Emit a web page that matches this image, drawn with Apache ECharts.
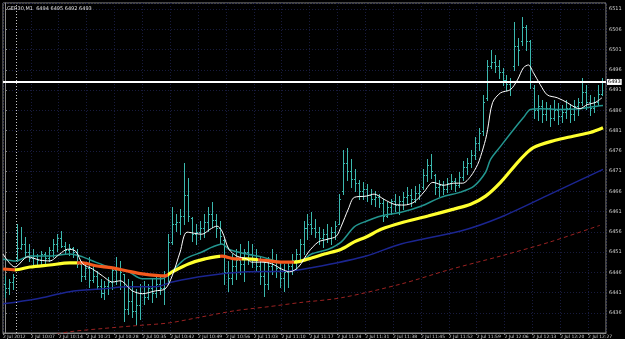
<!DOCTYPE html>
<html><head><meta charset="utf-8">
<script src="https://cdn.jsdelivr.net/npm/echarts@6/dist/echarts.min.js"></script>
<style>html,body{margin:0;padding:0;background:#000;}#c{width:625px;height:339px;}</style>
</head><body><div id="c"></div>
<script>
const symbolName = "GER30,M1";
const lastQuote = "6494 6495 6492 6493";
const currentPrice = 6493;
const separatorBar = 2.75;

const timeLabels = ["2 Jul 2012","2 Jul 10:07","2 Jul 10:14","2 Jul 10:21","2 Jul 10:28","2 Jul 10:35","2 Jul 10:42","2 Jul 10:49","2 Jul 10:56","2 Jul 11:03","2 Jul 11:10","2 Jul 11:17","2 Jul 11:24","2 Jul 11:31","2 Jul 11:38","2 Jul 11:45","2 Jul 11:52","2 Jul 11:59","2 Jul 12:06","2 Jul 12:13","2 Jul 12:20","2 Jul 12:27"];

const opens = [
6443.0,6442.0,6443.5,6449.5,6452.0,6453.0,6451.0,6449.5,6450.0,6449.0,
6450.5,6449.5,6451.5,6453.0,6454.5,6452.5,6451.5,6452.0,6451.0,6448.0,
6445.0,6447.0,6444.0,6445.0,6442.5,6441.0,6442.5,6443.5,6446.5,6447.0,
6445.5,6437.0,6439.0,6436.5,6438.0,6441.0,6440.0,6442.0,6441.0,6443.0,
6442.0,6445.0,6453.5,6458.0,6458.5,6460.0,6465.0,6459.5,6455.5,6456.0,
6457.0,6458.5,6460.5,6459.0,6457.0,6454.0,6446.0,6444.5,6447.5,6449.0,
6448.0,6451.0,6450.5,6449.5,6447.5,6445.0,6443.0,6447.5,6449.0,6447.0,
6444.5,6446.0,6447.5,6449.0,6450.5,6453.0,6457.0,6458.0,6457.0,6456.0,
6454.5,6455.5,6454.5,6456.0,6458.0,6466.0,6473.0,6471.0,6469.0,6468.0,
6466.0,6466.5,6465.0,6464.0,6464.5,6463.0,6460.0,6462.0,6463.5,6462.5,
6463.5,6464.5,6465.0,6464.0,6465.5,6467.0,6470.0,6472.5,6470.0,6467.0,
6467.5,6466.5,6468.0,6468.5,6467.5,6469.5,6472.0,6473.0,6475.0,6478.0,
6481.0,6489.0,6497.0,6498.0,6497.0,6495.5,6493.5,6492.5,6497.0,6502.0,
6503.0,6506.5,6503.0,6491.5,6486.0,6487.0,6485.0,6486.5,6484.0,6486.0,
6484.5,6485.5,6486.5,6485.0,6487.0,6488.0,6490.5,6488.0,6486.5,6488.0,6490.0];

const highs = [
6445.1,6444.4,6445.6,6457.9,6457.2,6454.7,6453.0,6451.7,6450.5,6451.2,
6451.0,6452.2,6454.2,6455.4,6456.2,6453.5,6453.0,6452.2,6451.7,6448.8,
6448.1,6449.8,6448.1,6446.3,6444.4,6443.9,6444.9,6447.3,6449.8,6448.8,
6445.6,6444.4,6443.9,6441.9,6443.1,6443.9,6443.1,6444.4,6445.6,6444.9,
6446.3,6455.4,6462.1,6460.3,6461.6,6473.1,6469.4,6459.6,6457.9,6458.6,
6460.3,6462.1,6463.3,6460.3,6458.6,6454.2,6448.8,6450.5,6451.7,6453.0,
6451.7,6453.7,6453.0,6451.7,6449.8,6448.8,6449.8,6451.7,6450.5,6448.8,
6448.1,6448.8,6450.5,6451.7,6454.2,6458.6,6460.3,6460.8,6459.1,6457.2,
6456.6,6457.9,6457.2,6458.6,6465.3,6476.3,6476.8,6473.9,6471.4,6468.9,
6468.2,6467.7,6466.5,6466.0,6465.3,6464.0,6463.3,6464.0,6465.3,6464.8,
6465.8,6467.0,6466.5,6467.2,6467.7,6471.4,6473.9,6475.1,6470.2,6468.9,
6468.5,6469.4,6470.2,6469.4,6470.7,6473.4,6474.3,6476.3,6479.3,6481.7,
6489.8,6498.5,6500.9,6499.7,6498.5,6496.5,6494.8,6494.0,6507.8,6503.9,
6509.0,6507.1,6503.4,6492.3,6489.8,6488.6,6488.1,6487.4,6488.6,6487.9,
6487.4,6488.6,6487.6,6488.6,6489.1,6494.0,6492.3,6489.8,6489.4,6492.3,6494.0];

const lows = [
6439.9,6440.7,6441.9,6448.8,6451.7,6449.8,6448.8,6448.1,6447.6,6447.8,
6448.1,6448.8,6449.8,6451.2,6452.2,6450.5,6450.3,6449.8,6447.3,6443.9,
6444.4,6442.4,6443.6,6441.9,6439.9,6439.4,6440.7,6441.9,6443.1,6441.9,
6434.0,6435.8,6435.0,6433.1,6434.5,6438.2,6439.4,6438.7,6439.9,6440.7,
6438.2,6443.1,6453.0,6456.2,6455.4,6457.9,6458.6,6453.7,6453.0,6454.2,
6454.7,6456.2,6457.2,6454.7,6453.0,6443.1,6441.4,6443.1,6444.4,6445.6,
6443.9,6448.1,6447.3,6446.3,6443.1,6440.2,6441.9,6445.6,6444.9,6442.4,
6441.4,6442.4,6445.6,6446.8,6448.8,6450.5,6454.2,6455.4,6454.7,6453.0,
6452.2,6453.5,6453.0,6454.2,6457.9,6465.3,6468.9,6467.0,6466.0,6464.0,
6464.0,6463.5,6462.8,6462.3,6462.1,6458.6,6459.6,6460.3,6461.1,6460.3,
6461.6,6462.8,6462.3,6463.3,6464.0,6466.5,6468.5,6469.4,6465.3,6464.8,
6465.3,6465.8,6466.5,6466.0,6467.0,6468.9,6470.2,6471.9,6473.9,6476.3,
6480.0,6488.6,6496.5,6495.5,6494.0,6492.3,6491.1,6489.8,6496.0,6497.2,
6502.1,6500.9,6491.6,6484.2,6483.7,6483.0,6483.7,6482.0,6483.7,6482.5,
6483.0,6484.2,6483.2,6483.7,6484.9,6487.4,6486.2,6484.9,6485.6,6487.4,6489.8];

const closes = [
6442.0,6443.5,6444.8,6452.0,6453.0,6451.0,6449.5,6450.0,6449.0,6450.5,
6449.5,6451.5,6453.0,6454.5,6452.5,6451.5,6452.0,6451.0,6448.0,6445.0,
6447.0,6444.0,6445.0,6442.5,6441.0,6442.5,6443.5,6446.5,6447.0,6446.0,
6437.0,6439.0,6436.5,6438.0,6441.0,6440.0,6442.0,6441.0,6443.0,6442.0,
6445.0,6453.5,6458.0,6458.5,6460.0,6465.0,6460.0,6455.5,6456.0,6457.0,
6458.5,6460.5,6459.0,6457.0,6455.0,6446.0,6444.5,6447.5,6449.0,6448.0,
6451.0,6450.5,6449.5,6447.5,6445.0,6443.0,6447.5,6449.0,6447.0,6444.5,
6446.0,6447.5,6449.0,6450.5,6453.0,6457.0,6458.0,6457.0,6456.0,6454.5,
6455.5,6454.5,6456.0,6457.5,6464.0,6473.0,6471.0,6469.0,6468.0,6466.0,
6466.5,6465.0,6464.0,6464.5,6463.0,6460.0,6462.0,6463.5,6462.5,6463.5,
6464.5,6465.0,6464.0,6465.5,6466.0,6470.0,6472.5,6471.0,6467.0,6467.5,
6466.5,6468.0,6468.5,6467.5,6469.5,6472.0,6473.0,6475.0,6478.0,6480.5,
6488.0,6497.0,6498.0,6497.0,6495.5,6493.5,6492.5,6491.5,6502.0,6501.0,
6506.5,6503.0,6493.0,6486.0,6487.0,6485.0,6486.5,6484.0,6486.0,6484.5,
6485.5,6486.5,6485.0,6487.0,6488.0,6490.5,6488.0,6486.5,6488.0,6490.0,6493.0];

// moving averages: [bar position, price]
const maWhite = [[-0.5,6450.5],[2.5,6447.3],[5.75,6449.8],[8.75,6449.0],[11.25,6448.8],[13.75,6450.5],[15.75,6451.7],[17.75,6451.2],[19.5,6448.1],[22,6446.8],[24.5,6445.1],[27,6443.6],[29,6443.9],[30.75,6442.6],[32,6441.4],[34.5,6440.7],[37.75,6441.4],[40.25,6441.9],[42,6445.1],[44,6451.0],[45.75,6455.9],[49.5,6455.4],[51.5,6456.6],[53.25,6457.4],[54.5,6456.2],[56.25,6451.7],[58.25,6450.0],[60.75,6449.3],[62,6448.5],[64.5,6448.5],[67,6448.1],[69.5,6446.8],[71.5,6446.1],[73.75,6447.3],[76.25,6451.0],[78.75,6453.5],[81.25,6454.2],[83.25,6454.9],[84.5,6457.4],[86.25,6461.6],[87.75,6464.5],[90.75,6464.8],[92.75,6465.3],[95.25,6464.0],[97.75,6462.8],[100.25,6462.6],[102.75,6463.3],[105.25,6465.8],[107.5,6468.2],[110.25,6467.5],[112.75,6468.0],[115,6468.0],[117,6469.7],[118.75,6472.6],[119.5,6474.6],[120.75,6478.8],[121.25,6481.2],[122.5,6487.9],[124.5,6490.3],[127,6491.1],[128.75,6493.5],[130.25,6496.5],[131.5,6497.2],[132.75,6495.3],[134.5,6492.3],[136.25,6489.8],[138.75,6489.1],[141.25,6487.9],[143.25,6486.7],[144.5,6486.4],[146.25,6487.4],[148.25,6487.9],[150,6489.1]];
const maTeal = [[-0.5,6449.3],[2.75,6448.8],[6.25,6450.0],[11.25,6450.0],[16.25,6450.5],[19.5,6449.8],[22.75,6448.5],[26.25,6447.3],[30.75,6446.3],[34.5,6444.4],[39.5,6444.4],[42,6446.3],[45.25,6449.3],[49.5,6451.0],[52,6452.2],[54.5,6453.0],[56.25,6451.7],[60.75,6450.5],[64.5,6449.8],[69.5,6448.5],[73.75,6448.5],[77,6450.5],[81.25,6451.7],[84.5,6453.5],[87.75,6457.2],[90.75,6458.6],[94.5,6459.9],[99.5,6460.8],[104.5,6462.3],[109.5,6464.5],[114.5,6465.8],[117.75,6467.2],[120.75,6470.7],[122,6473.9],[124.5,6477.1],[127.75,6481.2],[130.25,6484.2],[132,6486.2],[134.5,6486.4],[139.5,6486.2],[144.5,6486.4],[147.75,6486.9],[150.25,6487.2]];
const maThick = [[-0.5,6446.8],[2.5,6446.6],[6.25,6447.3],[11.25,6447.8],[16.25,6448.3],[19.5,6448.3],[22.75,6447.6],[27,6447.1],[30.75,6446.3],[34.5,6445.6],[40.25,6445.1],[42,6446.1],[46.25,6448.1],[50.25,6449.3],[54.5,6450.0],[57.75,6449.3],[60.75,6449.3],[64.5,6449.0],[69.5,6448.5],[72.75,6448.5],[76.25,6449.3],[80.25,6450.5],[84.5,6451.7],[87.75,6453.5],[90.75,6454.7],[94.5,6456.6],[100.25,6458.4],[106.25,6459.9],[112.75,6461.6],[117,6462.8],[120.75,6464.8],[124.5,6468.2],[129.5,6473.9],[132.75,6476.8],[138.25,6478.6],[142.75,6479.6],[147,6480.5],[150.25,6481.7]];
const maBlue = [[-0.5,6438.2],[7.75,6439.4],[16.25,6441.2],[24.5,6441.9],[30.75,6442.4],[37.75,6442.4],[42,6443.6],[50.25,6445.1],[60.75,6446.1],[71.5,6446.3],[79.75,6447.6],[90.75,6450.0],[99.5,6453.0],[114.5,6456.2],[124.5,6459.6],[137,6465.3],[150.25,6471.4]];
const maRed = [[9.5,6430.1],[16.25,6431.3],[24.5,6432.1],[32.75,6432.8],[41.25,6433.5],[49.5,6435.0],[57.75,6436.5],[66.25,6437.5],[74,6438.5],[84.5,6439.7],[99.5,6443.1],[111.5,6446.6],[124.5,6450.0],[137,6453.5],[149.5,6457.6]];
// falling segments of the thick MA are drawn orange
const thickFalling = [[-0.5,2.5],[18,41],[54,59.5],[63.5,72.5]];

const BAR = '#3bb8ae', YEL = '#ffff2e', ORG = '#f55a1e';
const pieces = [];
let last = -1e9;
thickFalling.forEach(([a,b]) => {
  pieces.push({gte:last, lt:a, color:YEL});
  pieces.push({gte:a, lt:b, color:ORG});
  last = b;
});
pieces.push({gte:last, color:YEL});

const barData = highs.map((h,i)=>[i,h,lows[i],opens[i],closes[i]]);
const chart = echarts.init(document.getElementById('c'), null, {renderer:'canvas'});
const font = 'DejaVu Sans';
const GRIDC = '#181b3e';
chart.setOption({
  backgroundColor:'#000',
  animation:false,
  title:{text:symbolName+'  '+lastQuote, left:2, top:1, textStyle:{color:'#e0e0e0', fontSize:5, fontWeight:'normal', fontFamily:font}},
  grid:{left:0, right:19, top:3, bottom:5, show:true, borderColor:'#8a8a8a', borderWidth:1, backgroundColor:'transparent'},
  xAxis:{type:'value', min:-0.5, max:151, interval:7,
    axisLine:{show:true, lineStyle:{color:'#8a8a8a'}},
    axisTick:{show:true, length:2, lineStyle:{color:'#8a8a8a'}},
    axisLabel:{show:true, showMinLabel:true, showMaxLabel:false, color:'#d0d0d0', fontSize:4.5, fontFamily:font, margin:1, align:'left',
      formatter:v=>{const k=Math.round(v/7); return timeLabels[k]||'';}},
    splitLine:{show:true, lineStyle:{color:GRIDC, type:[1,2], width:1}}},
  yAxis:{type:'value', position:'right', min:6431, max:6512.5, interval:5,
    axisLine:{show:true, lineStyle:{color:'#8a8a8a'}},
    axisTick:{show:true, length:2, lineStyle:{color:'#8a8a8a'}},
    axisLabel:{show:true, showMinLabel:false, showMaxLabel:false, color:'#d0d0d0', fontSize:5, fontFamily:font, margin:3,
      formatter:v=>String(Math.round(v))},
    splitLine:{show:true, lineStyle:{color:GRIDC, type:[1,2], width:1}}},
  visualMap:{type:'piecewise', show:false, dimension:0, seriesIndex:4, pieces:pieces},
  series:[
    {type:'custom', name:'bars', clip:true, data:barData, encode:{x:0,y:[1,2,3,4]}, z:2,
      renderItem:(params, api)=>{
        const i = api.value(0);
        const hi = api.coord([i, api.value(1)]);
        const lo = api.coord([i, api.value(2)]);
        const op = api.coord([i, api.value(3)]);
        const cl = api.coord([i, api.value(4)]);
        const x = Math.round(hi[0]) + 0.5;
        const oy = Math.round(op[1]) + 0.5;
        const cy = Math.round(cl[1]) + 0.5;
        return {type:'group', children:[
          {type:'line', shape:{x1:x, y1:Math.round(hi[1]), x2:x, y2:Math.round(lo[1])+1}, style:{stroke:BAR, lineWidth:1}},
          {type:'line', shape:{x1:x-1.5, y1:oy, x2:x, y2:oy}, style:{stroke:BAR, lineWidth:1}},
          {type:'line', shape:{x1:x, y1:cy, x2:x+1.5, y2:cy}, style:{stroke:BAR, lineWidth:1}}
        ]};
      },
      markLine:{silent:true, symbol:['none','none'], z:10,
        data:[{yAxis:currentPrice}],
        lineStyle:{color:'#ffffff', width:2, type:'solid'},
        label:{show:true, position:'end', distance:1, formatter:String(currentPrice), color:'#000', backgroundColor:'#fff', fontSize:5, fontFamily:font, padding:[1,1,0,1]}}},
    {type:'line', name:'red', data:maRed, showSymbol:false, smooth:0.3, z:3, lineStyle:{color:'#9a2222', width:1, type:[4,3]},
      markLine:{silent:true, symbol:['none','none'], data:[{xAxis:separatorBar}], lineStyle:{color:'#c8c8c8', type:[1,2], width:1}, label:{show:false}}},
    {type:'line', name:'blue', data:maBlue, showSymbol:false, smooth:0.3, z:3, lineStyle:{color:'#1b2590', width:1.5}},
    {type:'line', name:'teal', data:maTeal, showSymbol:false, smooth:0.3, z:4, lineStyle:{color:'#23958f', width:1.5}},
    {type:'line', name:'thick', data:maThick, showSymbol:false, smooth:0.3, z:5, lineStyle:{width:3.2}},
    {type:'line', name:'white', data:maWhite, showSymbol:false, smooth:0.3, z:6, lineStyle:{color:'#ffffff', width:1}}
  ]
});
</script></body></html>
